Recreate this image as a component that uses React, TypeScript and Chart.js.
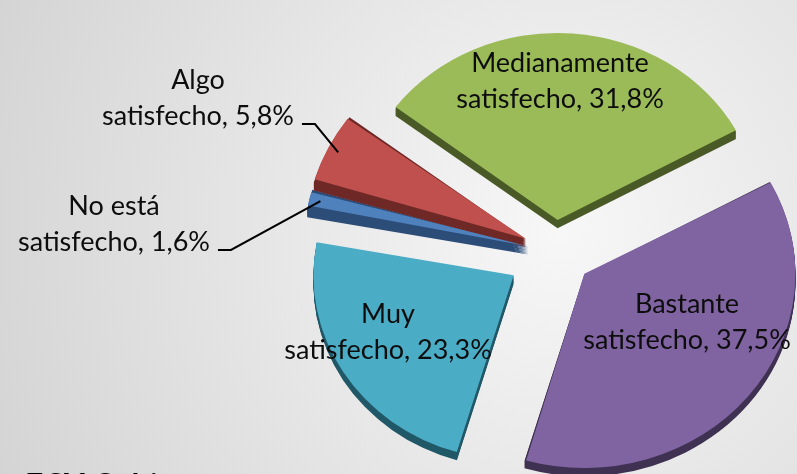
import React, { useEffect, useRef } from "react";
import { Chart, registerables } from "chart.js";

Chart.register(...registerables);

// ---- data ----
const categories = [
  "Medianamente satisfecho",
  "Bastante satisfecho",
  "Muy satisfecho",
  "No está satisfecho",
  "Algo satisfecho",
];
const values = [31.8, 37.5, 23.3, 1.6, 5.8];
const footerText = "FCY Cubiz";

// ---- styles / layout ----
const topColors = ["#9bbb59", "#8064a2", "#4bacc6", "#4f81bd", "#c0504d"];
const sideColors = ["#4a5a26", "#3f3152", "#215868", "#2c4d78", "#6e2826"];
const sliceOffsets = [140, 151, 194, 110, 130];
const labelPos = [
  [560, 72],
  [687, 313],
  [388, 323],
  [114, 215],
  [198, 89],
];
const outsideLabel = [false, false, false, true, true];
const LINE_GAP = 36;
const SCALE_Y = 0.92;
const DEPTH = 9;
const W = 797;
const H = 474;
const FONT_FAMILY = "Lato, 'Open Sans', sans-serif";

function labelLines(i: number): string[] {
  const head = categories[i].replace(" satisfecho", "");
  const pct = values[i].toFixed(1).replace(".", ",") + "%";
  return [head, "satisfecho, " + pct];
}

function centerOf(chart: any) {
  const a = chart.chartArea;
  return { x: (a.left + a.right) / 2, y: (a.top + a.bottom) / 2 };
}

// same geometry as Chart.js ArcElement.draw (translation by offset/4, radius grown by offset/4*fix)
function arcGeom(el: any) {
  const p = el.getProps(["x", "y", "startAngle", "endAngle", "outerRadius", "circumference"], true);
  const off = (el.options.offset || 0) / 4;
  const mid = (p.startAngle + p.endAngle) / 2;
  const fix = 1 - Math.sin(Math.min(Math.PI, p.circumference || 0));
  return {
    cx: p.x + Math.cos(mid) * off,
    cy: p.y + Math.sin(mid) * off,
    r: p.outerRadius + off * fix,
    s: p.startAngle,
    e: p.endAngle,
    mid,
  };
}

const bgPlugin = {
  id: "bg",
  beforeDraw(chart: any) {
    const ctx = chart.ctx;
    const g = ctx.createRadialGradient(560, 230, 0, 560, 230, 650);
    g.addColorStop(0, "#f7f7f7");
    g.addColorStop(1, "#d2d2d2");
    ctx.save();
    ctx.fillStyle = g;
    ctx.fillRect(0, 0, chart.width, chart.height);
    ctx.restore();
  },
};

const perspectivePlugin = {
  id: "persp",
  beforeDatasetsDraw(chart: any) {
    const ctx = chart.ctx;
    const c = centerOf(chart);
    ctx.save();
    ctx.translate(c.x, c.y);
    ctx.scale(1, SCALE_Y);
    ctx.translate(-c.x, -c.y);
    const meta = chart.getDatasetMeta(0);
    meta.data.forEach((el: any, i: number) => {
      const g = arcGeom(el);
      ctx.fillStyle = sideColors[i];
      for (let k = 1; k <= DEPTH; k++) {
        ctx.beginPath();
        ctx.moveTo(g.cx, g.cy + k);
        ctx.arc(g.cx, g.cy + k, g.r, g.s, g.e);
        ctx.closePath();
        ctx.fill();
      }
    });
  },
  afterDatasetsDraw(chart: any) {
    chart.ctx.restore();
  },
};

const labelPlugin = {
  id: "labels",
  afterDraw(chart: any) {
    const ctx = chart.ctx;
    const c = centerOf(chart);
    const meta = chart.getDatasetMeta(0);
    ctx.save();
    ctx.font = `100px ${FONT_FAMILY}`;
    const ref = ctx.measureText("satisfecho, 31,8%").width;
    const size = Math.round((100 * 210) / ref);
    ctx.font = `${size}px ${FONT_FAMILY}`;
    ctx.fillStyle = "#0d0d0d";
    ctx.textAlign = "center";
    ctx.textBaseline = "alphabetic";
    meta.data.forEach((el: any, i: number) => {
      const lines = labelLines(i);
      const [lx, ly] = labelPos[i];
      lines.forEach((t, j) => ctx.fillText(t, lx, ly + j * LINE_GAP));
      if (outsideLabel[i]) {
        const g = arcGeom(el);
        const px = g.cx + Math.cos(g.mid) * g.r * 0.95;
        const pyRaw = g.cy + Math.sin(g.mid) * g.r * 0.95;
        const py = c.y + (pyRaw - c.y) * SCALE_Y;
        const w2 = ctx.measureText(lines[1]).width;
        const sx = lx + w2 / 2 + 8;
        const sy = ly + LINE_GAP - 1;
        ctx.beginPath();
        ctx.moveTo(sx, sy);
        ctx.lineTo(sx + 13, sy);
        ctx.lineTo(px, py);
        ctx.strokeStyle = "#000000";
        ctx.lineWidth = 2;
        ctx.stroke();
      }
    });
    ctx.textAlign = "left";
    ctx.font = `bold 32px ${FONT_FAMILY}`;
    ctx.fillStyle = "#000000";
    ctx.fillText(footerText, 25, 497);
    ctx.restore();
  },
};

export default function App() {
  const ref = useRef<HTMLCanvasElement | null>(null);
  useEffect(() => {
    document.body.style.margin = "0";
    document.body.style.overflow = "hidden";
    const canvas = ref.current;
    if (!canvas) return;
    const chart = new Chart(canvas, {
      type: "pie",
      data: {
        labels: categories,
        datasets: [
          {
            data: values,
            backgroundColor: topColors,
            borderWidth: 0,
            offset: sliceOffsets,
            clip: false as any,
          },
        ],
      },
      options: {
        responsive: false,
        animation: false,
        rotation: -53,
        radius: 200,
        layout: { padding: { left: 330, right: 17, top: 30, bottom: 0 } },
        plugins: {
          legend: { display: false },
          tooltip: { enabled: false },
          title: { display: false },
        },
      } as any,
      plugins: [bgPlugin, perspectivePlugin, labelPlugin],
    });
    return () => chart.destroy();
  }, []);
  return (
    <div style={{ width: W, height: H, overflow: "hidden" }}>
      <canvas ref={ref} width={W} height={H} style={{ display: "block" }} />
    </div>
  );
}
